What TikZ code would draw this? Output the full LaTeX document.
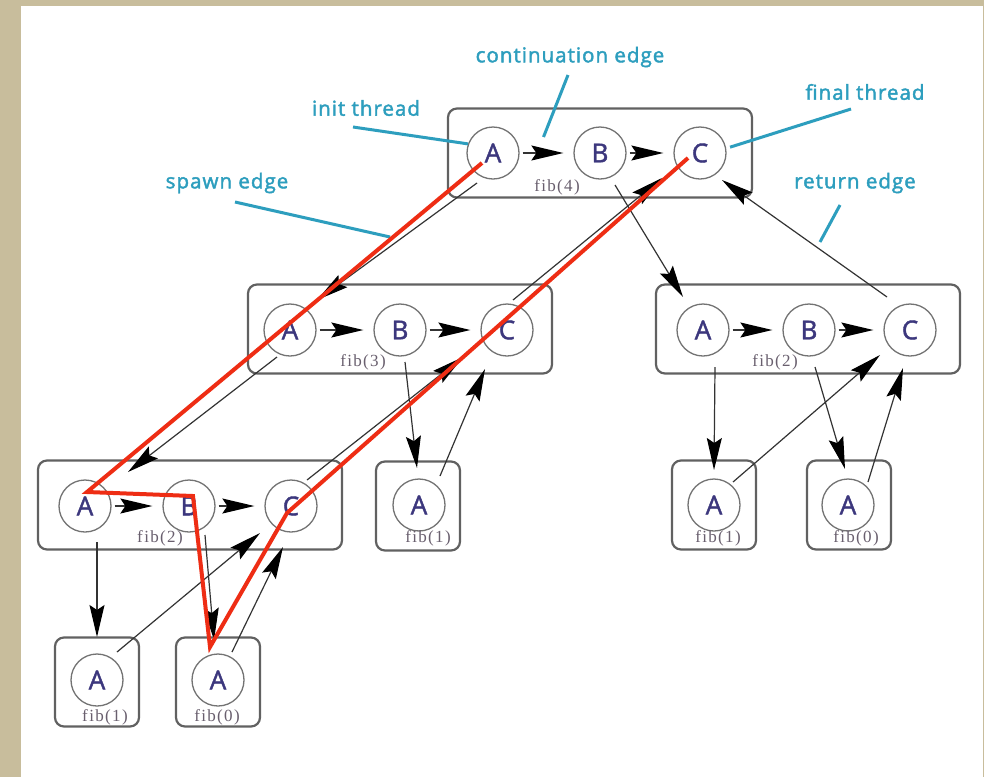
\documentclass[tikz,border=0pt]{standalone}
\usepackage{fontspec}
\setmainfont{Liberation Serif}
\newfontfamily\notefont[LetterSpace=5, FakeBold=2]{Open Sans}
\newfontfamily\threadfont[FakeBold=1.6]{Open Sans}
\newfontfamily\tagfont[LetterSpace=8]{Liberation Serif}
\usetikzlibrary{arrows.meta, positioning, calc}

\definecolor{paper}{RGB}{200,189,156}
\definecolor{notecol}{RGB}{45,158,190}
\definecolor{threadcol}{RGB}{60,55,125}
\definecolor{tagcol}{RGB}{105,95,110}
\definecolor{redpath}{RGB}{238,45,20}

\begin{document}
\begin{tikzpicture}[
    x=1pt, y=-1pt,
    callbox/.style={draw=black!62, line width=2.2pt, rounded corners=9pt, fill=white, minimum height=89pt, inner sep=0pt},
    bigbox/.style={callbox, minimum width=304pt},
    smallbox/.style={callbox, minimum width=84pt},
    thread/.style={circle, draw=black!55, line width=1.3pt, fill=white, minimum size=52pt, inner sep=0pt, text=threadcol, font=\threadfont\fontsize{26}{26}\selectfont},
    tag/.style={text=tagcol, font=\tagfont\fontsize{17}{17}\selectfont, inner sep=0pt},
    note/.style={text=notecol, font=\notefont\fontsize{20.5}{20.5}\selectfont, inner sep=0pt},
    lead/.style={draw=notecol, line width=3pt},
    link/.style={draw=black!80, line width=1.2pt, -{Stealth[length=32pt, width=15pt, inset=5pt, black]}},
    seq/.style={link, shorten <=3pt, shorten >=10pt},
    redtrace/.style={draw=redpath, line width=4pt}
]

% Canvas
\useasboundingbox (0,0) rectangle (984,777);
\fill[paper] (0,0) rectangle (984,777);
\fill[white] (21,6) rectangle (983,777);

% Call frames
\node[bigbox] (fr4) at (600,153) {};
\node[bigbox] (fr3) at (400,329) {};
\node[bigbox] (fr2r) at (808,329) {};
\node[bigbox] (fr2l) at (190,505) {};
\node[smallbox] (fr1m) at (418,506) {};
\node[smallbox] (fr1r) at (714,505) {};
\node[smallbox] (fr0r) at (849,505) {};
\node[smallbox] (fr1l) at (97,682) {};
\node[smallbox] (fr0l) at (218,682) {};

% Threads
\node[thread] (f4A) at (493,153) {A};
\node[thread] (f4B) at (600,153) {B};
\node[thread] (f4C) at (700,153) {C};
\node[thread] (f3A) at (290,330) {A};
\node[thread] (f3B) at (400,330) {B};
\node[thread] (f3C) at (507,330) {C};
\node[thread] (f2rA) at (703,330) {A};
\node[thread] (f2rB) at (809,330) {B};
\node[thread] (f2rC) at (910,330) {C};
\node[thread] (f2lA) at (85,506) {A};
\node[thread] (f2lB) at (189,506) {B};
\node[thread] (f2lC) at (291,506) {C};
\node[thread] (f1mA) at (419,505) {A};
\node[thread] (f1rA) at (714,505) {A};
\node[thread] (f0rA) at (848,505) {A};
\node[thread] (f1lA) at (97,680) {A};
\node[thread] (f0lA) at (218,680) {A};

% Frame names
\node[tag] (t4) at (557,187) {fib(4)};
\node[tag] (t3) at (363,362) {fib(3)};
\node[tag] (t2r) at (775,362) {fib(2)};
\node[tag] (t2l) at (160,538) {fib(2)};
\node[tag] (t1m) at (428,538) {fib(1)};
\node[tag] (t1r) at (718,538) {fib(1)};
\node[tag] (t0r) at (856,538) {fib(0)};
\node[tag] (t1l) at (105,717) {fib(1)};
\node[tag] (t0l) at (217,717) {fib(0)};

% Continuations inside a frame
\draw[seq] (f4A) -- (f4B);
\draw[seq] (f4B) -- (f4C);
\draw[seq] (f3A) -- (f3B);
\draw[seq] (f3B) -- (f3C);
\draw[seq] (f2rA) -- (f2rB);
\draw[seq] (f2rB) -- (f2rC);
\draw[seq] (f2lA) -- (f2lB);
\draw[seq] (f2lB) -- (f2lC);

% Spawns
\draw[link] ($(f4A)+(-16,30)$) -- ($(f3A)+(27,-30)$);
\draw[link] ($(f4B)+(15,32)$) -- ($(f2rA)+(-20,-33)$);
\draw[link] ($(f3A)+(-13,27)$) -- ($(f2lA)+(43,-34)$);
\draw[link] ($(f3B)+(5,32)$) -- ($(f1mA)+(-2,-37)$);
\draw[link] ($(f2lA)+(12,36)$) -- ($(f1lA)+(0,-43)$);
\draw[link] ($(f2lB)+(16,29)$) -- ($(f0lA)+(-4,-40)$);
\draw[link] ($(f2rA)+(12,37)$) -- ($(f1rA)+(0,-35)$);
\draw[link] ($(f2rB)+(6,37)$) -- ($(f0rA)+(-3,-36)$);

% Returns
\draw[link] ($(f3C)+(6,-30)$) -- ($(f4C)+(-38,25)$);
\draw[link] ($(f2rC)+(-23,-33)$) -- ($(f4C)+(22,27)$);
\draw[link] ($(f2lC)+(16,-26)$) -- ($(f3C)+(-44,27)$);
\draw[link] ($(f1mA)+(21,-29)$) -- ($(f3C)+(-22,39)$);
\draw[link] ($(f1lA)+(20,-28)$) -- ($(f2lC)+(-31,27)$);
\draw[link] ($(f0lA)+(14,-28)$) -- ($(f2lC)+(-8,41)$);
\draw[link] ($(f1rA)+(19,-23)$) -- ($(f2rC)+(-30,25)$);
\draw[link] ($(f0rA)+(20,-23)$) -- ($(f2rC)+(-7,38)$);

% Callouts
\node[note] (contnote) at (570,57) {continuation edge};
\node[note] (initnote) at (366,108) {init thread};
\node[note] (finalnote) at (865,92) {final thread};
\node[note] (spawnnote) at (227,183) {spawn edge};
\node[note] (retnote) at (855,183) {return edge};

\draw[lead] ($(contnote)+(-2,18)$) -- ($(f4A.east)!0.5!(f4B.west)+(-3,-16)$);
\draw[lead] ($(initnote)+(-13,19)$) -- (f4A.160);
\draw[lead, shorten >=4pt] ($(finalnote)+(-14,17)$) -- (f4C.10);
\draw[lead] ($(spawnnote)+(8,19)$) -- ($(f4A)+(-103,84)$);
\draw[lead] ($(retnote)+(-15,22)$) -- ($(f2rC)+(-90,-88)$);

% Critical path
\draw[redtrace] ($(f4A)+(-11,10)$) -- ($(f2lA)+(2,-14)$) -- ($(f2lB)+(4,-10)$)
    -- ($(f0lA)+(-8,-33)$) -- ($(f2lC)+(-4,7)$) -- ($(f4C)+(-12,5)$);

\end{tikzpicture}
\end{document}
